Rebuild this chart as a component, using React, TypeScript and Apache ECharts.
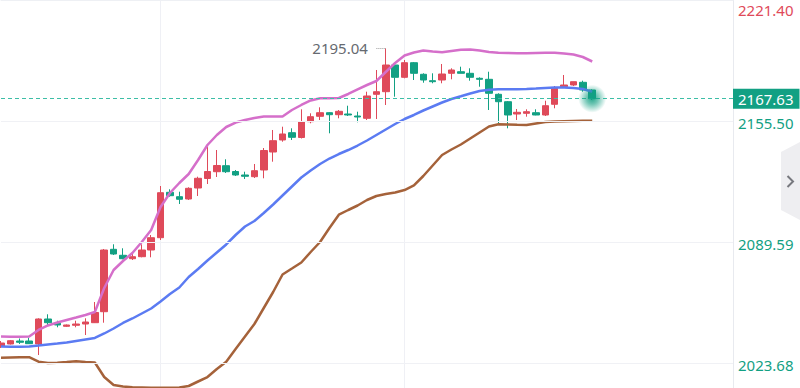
import React, { useEffect, useRef } from "react";
import * as echarts from "echarts";

// ---- data ----
const CATS: string[] = Array.from({ length: 79 }, (_, i) => String(i));

const OPEN = [
  2032.66, 2034.02, 2035.65, 2035.65, 2034.02, 2047.64, 2045.30, 2043.66, 2044.21, 2044.91,
  2045.62, 2051.61, 2085.60, 2082.34, 2080.48, 2081.57, 2085.22, 2091.92, 2116.65, 2114.26,
  2113.00, 2118.99, 2124.17, 2127.87, 2131.14, 2127.98, 2126.08, 2125.15, 2128.80, 2138.60,
  2145.14, 2149.12, 2146.50, 2155.11, 2158.05, 2160.01, 2158.92, 2159.30, 2158.21, 2156.96,
  2170.03, 2171.45, 2185.99, 2179.29, 2187.25, 2180.93, 2177.44, 2177.82, 2181.47, 2182.34,
  2181.47, 2178.75, 2178.20, 2170.03, 2166.00, 2159.30, 2159.68, 2160.01, 2158.76, 2164.59,
  2174.17, 2175.10, 2176.57, 2172.38,
];
const CLOSE = [
  2034.56, 2035.82, 2034.95, 2034.18, 2047.64, 2045.62, 2044.37, 2044.37, 2044.91, 2046.00,
  2051.18, 2085.22, 2083.04, 2080.48, 2081.57, 2085.22, 2091.92, 2116.43, 2114.80, 2112.84,
  2118.83, 2124.28, 2127.98, 2131.25, 2127.87, 2126.08, 2125.37, 2128.42, 2139.42, 2144.76,
  2148.41, 2146.61, 2154.95, 2157.83, 2160.01, 2158.92, 2160.77, 2158.76, 2157.67, 2169.11,
  2171.45, 2185.99, 2179.29, 2187.25, 2181.47, 2177.82, 2176.90, 2181.09, 2183.27, 2181.47,
  2179.29, 2178.20, 2170.58, 2166.00, 2158.76, 2160.23, 2160.56, 2158.76, 2163.82, 2173.30,
  2175.10, 2176.90, 2172.38, 2167.63,
];
const LOW = [
  2031.84, 2033.75, 2034.02, 2034.02, 2028.03, 2044.37, 2043.12, 2043.28, 2043.12, 2038.92,
  2045.46, 2045.62, 2082.50, 2080.16, 2079.78, 2081.25, 2081.25, 2090.67, 2114.26, 2110.28,
  2112.46, 2114.64, 2121.17, 2124.99, 2127.17, 2125.53, 2123.90, 2124.44, 2124.28, 2133.32,
  2144.21, 2145.14, 2145.96, 2154.24, 2156.03, 2148.79, 2156.96, 2158.21, 2154.78, 2156.03,
  2156.58, 2164.21, 2168.73, 2178.75, 2177.82, 2176.35, 2176.03, 2176.03, 2178.20, 2181.47,
  2177.44, 2174.17, 2161.48, 2154.24, 2151.51, 2156.03, 2157.83, 2158.60, 2158.21, 2162.41,
  2174.17, 2174.56, 2171.45, 2166.93,
];
const HIGH = [
  2035.65, 2036.20, 2037.02, 2037.45, 2048.02, 2050.20, 2046.71, 2044.64, 2046.71, 2048.02,
  2056.90, 2085.77, 2088.33, 2086.15, 2083.75, 2088.33, 2093.39, 2120.08, 2118.29, 2116.98,
  2119.38, 2125.15, 2141.33, 2139.69, 2134.63, 2128.80, 2127.87, 2132.07, 2140.78, 2150.59,
  2152.39, 2151.51, 2161.86, 2159.68, 2162.95, 2160.28, 2161.48, 2163.82, 2160.56, 2171.45,
  2183.27, 2195.04, 2186.54, 2188.72, 2187.63, 2181.47, 2181.47, 2186.54, 2184.20, 2185.07,
  2184.20, 2179.29, 2182.34, 2170.58, 2166.38, 2162.03, 2161.86, 2161.86, 2166.55, 2174.56,
  2180.55, 2176.90, 2177.44, 2172.76,
];

const UPPER = [
  2038.10, 2038.00, 2038.00, 2038.10, 2041.65, 2044.10, 2045.73, 2047.09, 2048.45, 2049.82,
  2051.45, 2064.52, 2074.33, 2079.23, 2083.59, 2089.58, 2096.12, 2108.64, 2116.27, 2121.72,
  2126.62, 2134.25, 2142.42, 2147.86, 2152.22, 2154.67, 2156.03, 2157.12, 2157.94, 2157.94,
  2157.94, 2161.48, 2164.21, 2166.66, 2167.85, 2167.85, 2168.02, 2170.20, 2172.65, 2175.10,
  2177.28, 2182.18, 2187.08, 2191.17, 2192.80, 2193.89, 2193.35, 2192.91, 2193.62, 2194.33,
  2194.44, 2193.89, 2193.07, 2192.64, 2192.53, 2192.37, 2192.37, 2192.53, 2192.69, 2192.69,
  2192.26, 2191.71, 2190.35, 2187.90,
];
const MIDDLE = [
  2032.66, 2032.55, 2032.55, 2032.66, 2033.20, 2033.75, 2034.29, 2034.84, 2035.65, 2036.47,
  2037.29, 2039.74, 2042.46, 2045.46, 2047.91, 2050.63, 2053.36, 2057.17, 2061.25, 2064.80,
  2070.52, 2074.87, 2079.50, 2083.86, 2088.22, 2093.39, 2098.02, 2101.02, 2105.38, 2110.01,
  2114.91, 2119.81, 2124.71, 2128.53, 2132.07, 2135.06, 2137.51, 2139.69, 2142.14, 2144.87,
  2147.86, 2150.86, 2153.86, 2156.58, 2158.76, 2161.21, 2163.39, 2165.57, 2167.47, 2168.94,
  2170.47, 2171.83, 2172.54, 2172.76, 2172.76, 2172.81, 2172.92, 2173.19, 2173.47, 2173.74,
  2173.74, 2173.47, 2172.92, 2171.45,
];
const LOWER = [
  2026.56, 2026.67, 2026.78, 2026.83, 2024.38, 2023.67, 2023.83, 2024.21, 2024.60, 2024.21,
  2023.94, 2016.04, 2011.69, 2010.87, 2010.43, 2010.32, 2010.21, 2010.21, 2010.21, 2010.32,
  2011.14, 2013.59, 2016.04, 2020.40, 2024.38, 2031.30, 2038.10, 2044.91, 2053.63, 2062.34,
  2071.88, 2075.14, 2078.41, 2084.13, 2089.58, 2097.21, 2104.45, 2107.01, 2109.46, 2112.46,
  2114.64, 2115.73, 2116.54, 2117.90, 2120.36, 2125.53, 2131.25, 2136.97, 2139.97, 2142.69,
  2145.96, 2149.23, 2152.49, 2153.69, 2153.58, 2153.42, 2153.31, 2154.13, 2154.94, 2155.22,
  2155.38, 2155.49, 2155.60, 2155.65,
];

const Y_MAX = 2221.4;
const Y_MIN = 2010.05;
const GRID_TICKS = [2155.5, 2089.59, 2023.68];
const LAST_PRICE = 2167.63;
const MAX_HIGH = 2195.04;
const MAX_IDX = 41;
const V_GRID_IDX = [17, 43];

const RED = "#df4a5a";
const GREEN = "#12a083";
const FONT = "'Noto Sans', sans-serif";

export default function App() {
  const ref = useRef<HTMLDivElement>(null);
  useEffect(() => {
    if (!ref.current) return;
    const chart = echarts.init(ref.current, undefined, { renderer: "svg" });
    const candles = OPEN.map((o, i) => [o, CLOSE[i], LOW[i], HIGH[i]]);
    const lastIdx = OPEN.length - 1;
    const labelRich = {
      r: { color: RED, fontSize: 15, fontFamily: FONT },
      g: { color: GREEN, fontSize: 15, fontFamily: FONT },
    };
    const bandLine = (data: number[], color: string) => ({
      type: "line",
      data,
      z: 3,
      showSymbol: false,
      symbol: "none",
      silent: true,
      lineStyle: { color, width: 2.5 },
    });
    const option: any = {
      animation: false,
      backgroundColor: "#ffffff",
      grid: { left: 1, right: 67, top: 0, bottom: 0 },
      xAxis: {
        type: "category",
        data: CATS,
        boundaryGap: false,
        position: "top",
        axisLine: { show: true, lineStyle: { color: "#eef0f4" } },
        axisTick: { show: false },
        axisLabel: { show: false },
        splitLine: {
          show: true,
          interval: (idx: number) => V_GRID_IDX.indexOf(idx) >= 0,
          lineStyle: { color: "#eff0f5", width: 1 },
        },
      },
      yAxis: [
        {
          type: "value",
          position: "right",
          min: Y_MIN,
          max: Y_MAX,
          axisLine: { show: true, lineStyle: { color: "#e8eaef" } },
          axisTick: { show: false },
          splitLine: { show: false },
          axisLabel: {
            customValues: GRID_TICKS,
            margin: 5,
            padding: [5, 0, 0, 0],
            formatter: (v: number) => `{g|${v.toFixed(2)}}`,
            rich: labelRich,
          },
        },
        {
          type: "value",
          position: "right",
          min: Y_MIN,
          max: Y_MAX,
          axisLine: { show: false },
          axisTick: { show: false },
          splitLine: { show: false },
          axisLabel: {
            customValues: [Y_MAX],
            margin: 5,
            verticalAlign: "top",
            padding: [2, 0, 0, 0],
            formatter: (v: number) => `{r|${v.toFixed(2)}}`,
            rich: labelRich,
          },
        },
      ],
      graphic: [
        {
          type: "polygon",
          shape: { points: [[781, 152], [800, 142], [800, 220], [781, 210]] },
          style: { fill: "#eeeef1" },
          silent: true,
        },
        {
          type: "polyline",
          shape: { points: [[787.5, 176], [793, 181.5], [787.5, 187]] },
          style: { stroke: "#77787e", lineWidth: 2, fill: "none" },
          silent: true,
        },
      ],
      series: [
        {
          type: "line",
          data: [],
          z: 1,
          silent: true,
          markLine: {
            silent: true,
            symbol: ["none", "none"],
            label: { show: false },
            lineStyle: { color: "#f0f1f5", width: 1, type: "solid" },
            data: [
              ...GRID_TICKS.map((v) => ({ yAxis: v })),
              [
                { coord: [CATS[MAX_IDX - 1], MAX_HIGH], lineStyle: { type: "dotted", color: "#9a9a9a", width: 1 } },
                { coord: [CATS[MAX_IDX], MAX_HIGH] },
              ],
            ],
          },
        },
        {
          type: "candlestick",
          data: candles,
          barWidth: 7,
          z: 2,
          itemStyle: {
            color: RED,
            color0: GREEN,
            borderColor: RED,
            borderColor0: GREEN,
            borderWidth: 1,
          },
          markLine: {
            silent: true,
            symbol: ["none", "none"],
            data: [
              {
                yAxis: LAST_PRICE,
                lineStyle: { type: [4, 3], color: "#3dbea6", width: 1 },
                label: {
                  show: true,
                  position: "end",
                  distance: 0,
                  formatter: () => LAST_PRICE.toFixed(2),
                  backgroundColor: GREEN,
                  color: "#ffffff",
                  fontSize: 15,
                  fontFamily: FONT,
                  padding: [3, 6, 2, 5],
                },
              },
            ],
          },
          markPoint: {
            silent: true,
            data: [
              {
                coord: [CATS[lastIdx], LAST_PRICE],
                symbol: "circle",
                symbolSize: 28,
                itemStyle: {
                  color: new echarts.graphic.RadialGradient(0.5, 0.5, 0.5, [
                    { offset: 0, color: "rgba(18,160,131,0.9)" },
                    { offset: 0.4, color: "rgba(18,160,131,0.6)" },
                    { offset: 1, color: "rgba(18,160,131,0)" },
                  ]),
                },
                label: { show: false },
              },
              {
                coord: [CATS[MAX_IDX - 1], MAX_HIGH],
                symbol: "circle",
                symbolSize: 1,
                itemStyle: { color: "rgba(0,0,0,0)" },
                label: {
                  show: true,
                  position: "left",
                  distance: 8,
                  formatter: () => MAX_HIGH.toFixed(2),
                  color: "#666a70",
                  fontSize: 15,
                  fontFamily: FONT,
                },
              },
            ],
          },
        },
        bandLine(UPPER, "#d56fca"),
        bandLine(MIDDLE, "#5b7bf2"),
        bandLine(LOWER, "#a5623a"),
      ],
    };
    chart.setOption(option);
    return () => chart.dispose();
  }, []);
  return (
    <div
      ref={ref}
      style={{ position: "absolute", left: 0, top: 0, width: 800, height: 388, background: "#fff" }}
    />
  );
}
